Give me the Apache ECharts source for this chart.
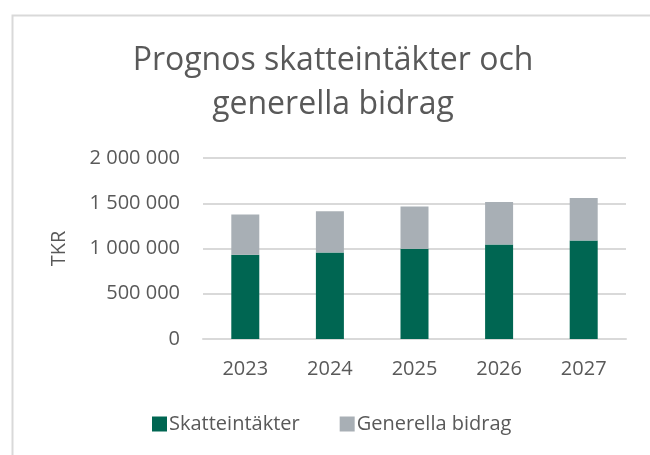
<!DOCTYPE html>
<html>
<head>
<meta charset="utf-8">
<script src="https://cdn.jsdelivr.net/npm/echarts@6/dist/echarts.min.js"></script>
<style>
  html, body { margin: 0; padding: 0; background: #fff; }
  #chart { width: 650px; height: 455px; }
</style>
</head>
<body>
<div id="chart"></div>
<script>
// årtal och värden (TKR)
const years = ['2023', '2024', '2025', '2026', '2027'];
const skatteintakter = [930000, 956000, 996000, 1044000, 1089000];
const generellaBidrag = [445000, 456000, 468000, 471000, 470000];
const yTicks = [0, 500000, 1000000, 1500000, 2000000];

const textColor = '#595959';
const fontFamily = '"Open Sans", "Noto Sans", sans-serif';

// tusentalsavgränsare med mellanslag
const fmt = (v) => String(v).replace(/\B(?=(\d{3})+(?!\d))/g, ' ');

const myChart = echarts.init(document.getElementById('chart'));
myChart.setOption({
    animation: false,
    backgroundColor: '#fff',
    textStyle: { fontFamily: fontFamily },
    title: {
        text: 'Prognos skatteintäkter och\ngenerella bidrag',
        left: 328,
        textAlign: 'center',
        top: 34,
        textStyle: {
            fontFamily: fontFamily,
            fontSize: 32,
            fontWeight: 'normal',
            color: textColor,
            lineHeight: 44
        }
    },
    graphic: [
        {
            type: 'rect',
            left: 10,
            top: 13,
            shape: { width: 700, height: 500 },
            style: { fill: 'none', stroke: '#d9d9d9', lineWidth: 2 },
            silent: true
        }
    ],
    legend: {
        bottom: 16,
        left: 147,
        itemWidth: 15,
        itemHeight: 15,
        itemGap: 40,
        icon: 'rect',
        textStyle: { fontSize: 20, color: textColor, fontFamily: fontFamily, padding: [0, 0, 0, -3] },
        data: ['Skatteintäkter', 'Generella bidrag']
    },
    grid: {
        left: 203,
        right: 24,
        top: 158,
        bottom: 116
    },
    xAxis: {
        type: 'category',
        data: years,
        axisLine: { show: true, lineStyle: { color: '#d9d9d9', width: 2 } },
        axisTick: { show: false },
        axisLabel: { fontSize: 20, color: textColor, margin: 20 }
    },
    yAxis: {
        type: 'value',
        min: yTicks[0],
        max: yTicks[yTicks.length - 1],
        interval: yTicks[1] - yTicks[0],
        name: 'TKR',
        nameLocation: 'middle',
        nameRotate: 90,
        nameGap: 134,
        nameTextStyle: { fontSize: 20, color: textColor },
        axisLine: { show: false },
        axisTick: { show: false },
        axisLabel: { fontSize: 20, color: textColor, margin: 23, formatter: fmt },
        splitLine: { lineStyle: { color: '#d9d9d9', width: 2 } }
    },
    series: [
        {
            name: 'Skatteintäkter',
            type: 'bar',
            stack: 'total',
            barWidth: 28,
            itemStyle: { color: '#006652' },
            data: skatteintakter
        },
        {
            name: 'Generella bidrag',
            type: 'bar',
            stack: 'total',
            barWidth: 28,
            itemStyle: { color: '#a8afb5' },
            data: generellaBidrag
        }
    ]
});
</script>
</body>
</html>
